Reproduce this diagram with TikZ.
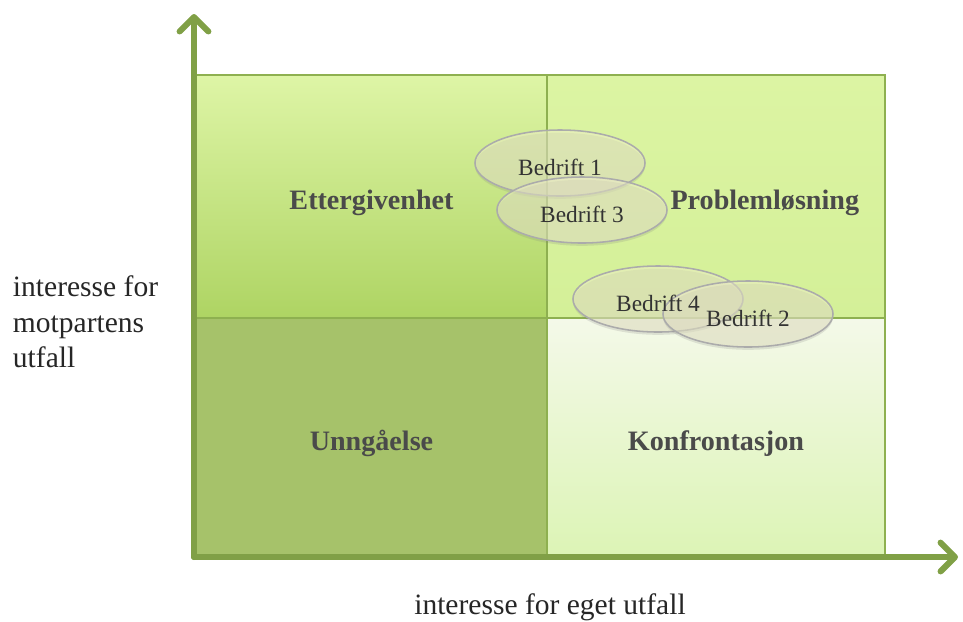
\documentclass[tikz,border=0pt]{standalone}
\usepackage{fontspec}
\setmainfont{Liberation Serif}
\usepackage{xcolor}
\definecolor{axisgreen}{RGB}{128,160,70}
\definecolor{edgegreen}{RGB}{142,176,80}
\definecolor{quadtext}{RGB}{74,74,74}
\usepackage{tikz}
\usetikzlibrary{shapes.geometric, arrows.meta, positioning, calc, shadows}

\begin{document}
\begin{tikzpicture}[
    x=0.025cm, y=-0.025cm,
    axis/.style={draw=axisgreen, line width=4.3pt, line cap=round, -{Straight Barb[length=0.36cm, width=0.72cm, line cap=round, line join=round]}},
    quad/.style={draw=edgegreen, line width=1pt, rectangle, inner sep=0pt, drop shadow={opacity=0.25, shadow xshift=0pt, shadow yshift=-2pt}},
    quadlabel/.style={font=\fontsize{20}{24}\selectfont\bfseries, text=quadtext, yshift=-0.15cm},
    firm/.style={draw=black!33, line width=1.1pt, ellipse, fill=white!85!olive, fill opacity=0.5, minimum width=4.25cm, minimum height=1.65cm, inner sep=0pt, drop shadow={opacity=0.2, shadow xshift=0pt, shadow yshift=-2pt}},
    firmtext/.style={font=\fontsize{16.6}{20}\selectfont, text=black!80, yshift=-0.1cm},
    axislabel/.style={font=\fontsize{21}{25.2}\selectfont, text=black!85, align=left}
  ]
  \useasboundingbox (0,0) rectangle (963,621);

  % Quadrants
  \node (ett) at (371.5,196.5) [quad, minimum width=8.775cm, minimum height=6.075cm, top color={rgb,255:red,222;green,245;blue,166}, bottom color={rgb,255:red,174;green,212;blue,99}, label={[quadlabel]center:Ettergivenhet}] {};
  \node (prob) at (716,196.5) [quad, minimum width=8.45cm, minimum height=6.075cm, top color={rgb,255:red,220;green,244;blue,163}, bottom color={rgb,255:red,212;green,240;blue,152}, label={[quadlabel, xshift=1.22cm]center:Problemløsning}] {};
  \node (unng) at (371.5,437.5) [quad, minimum width=8.775cm, minimum height=5.975cm, fill={rgb,255:red,166;green,194;blue,106}, label={[quadlabel]center:Unngåelse}] {};
  \node (konf) at (716,437.5) [quad, minimum width=8.45cm, minimum height=5.975cm, top color={rgb,255:red,244;green,249;blue,233}, bottom color={rgb,255:red,220;green,244;blue,181}, label={[quadlabel]center:Konfrontasjon}] {};

  % Axes
  \coordinate (origin) at (194,557);
  \coordinate (ytip) at (194,14);
  \coordinate (xtip) at (958,557);
  \draw[axis] (origin) -- (ytip);
  \draw[axis] (origin) -- (xtip);

  % Companies: ellipses first, names on top
  \node (b1) at (560,163) [firm] {};
  \node (b3) at (582,210) [firm] {};
  \node (b4) at (658,299) [firm] {};
  \node (b2) at (748,314) [firm] {};
  \node (b1text) at (b1) [firmtext] {Bedrift 1};
  \node (b3text) at (b3) [firmtext] {Bedrift 3};
  \node (b4text) at (b4) [firmtext] {Bedrift 4};
  \node (b2text) at (b2) [firmtext] {Bedrift 2};

  % Axis texts
  \node (ylabel) at (8,322) [axislabel, anchor=west] {interesse for\\motpartens\\utfall};
  \node (xlabel) at (550,607) [axislabel] {interesse for eget utfall};

\end{tikzpicture}
\end{document}
